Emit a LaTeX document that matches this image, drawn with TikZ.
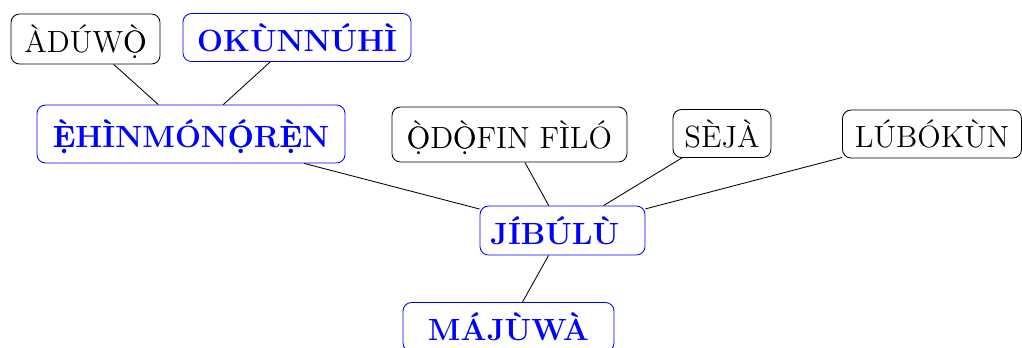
\documentclass[tikz,border=0pt]{standalone}
\usepackage{fontspec}
\usepackage{accsupp}
% a letter carrying both a dot below and a tone mark: overlay two precomposed
% glyphs, and give the pair its proper Unicode text (hex UTF-16)
\newcommand\tone[3]{\BeginAccSupp{method=hex,ActualText=#3}\ooalign{#1\cr#2\cr}\EndAccSupp{}}
\newcommand\Ogr{\tone{Ọ}{Ò}{FEFF1ECC0300}}
\newcommand\Oac{\tone{Ọ}{Ó}{FEFF1ECC0301}}
\newcommand\Egr{\tone{Ẹ}{È}{FEFF1EB80300}}
\begin{document}
\begin{tikzpicture}[x=0.4695pt,y=-0.4695pt,
  box/.style 2 args={rounded corners=4pt,minimum width={#1*0.4695pt},minimum height={#2*0.4695pt},inner sep=0pt},
  leaf/.style={draw=black,font=\Large,text=black},
  keyword/.style={draw=blue,font=\Large\bfseries,text=blue},
  link/.style={draw=black,line width=0.4pt}]
\useasboundingbox (0,0) rectangle (1022,347);
% nodes
\node[leaf,box={149}{50}]    (aduwo)   at (85.5,39)    {ÀDÚW\Ogr};
\node[keyword,box={228}{48}] (okun)    at (297,37.5)   {OKÙNNÚHÌ};
\node[keyword,box={308}{58}] (ehin)    at (191,134)    {\Egr HÌNMÓN\Oac R\Egr N};
\node[leaf,box={235}{55}]    (odofin)  at (509.5,134.5) {\Ogr D\Ogr FIN FÌLÓ};
\node[leaf,box={98}{48}]     (seja)    at (722,133.5)  {SÈJÀ};
\node[leaf,box={179}{48}]    (lubokun) at (932,134)    {LÚBÓKÙN};
\node[keyword,box={165}{49}] (jibulu)  at (562.5,230.5) {JÍBÚLÙ\hspace*{7.3pt}};
\node[keyword,box={211}{49}] (majuwa)  at (508.5,327)  {MÁJÙWÀ};
% connectors
\draw[link] (aduwo) -- (ehin);
\draw[link] (okun) -- (ehin);
\draw[link] (ehin) -- (jibulu);
\draw[link] (odofin) -- (jibulu);
\draw[link] (seja) -- (jibulu);
\draw[link] (lubokun) -- (jibulu);
\draw[link] (jibulu) -- (majuwa);
\end{tikzpicture}
\end{document}
